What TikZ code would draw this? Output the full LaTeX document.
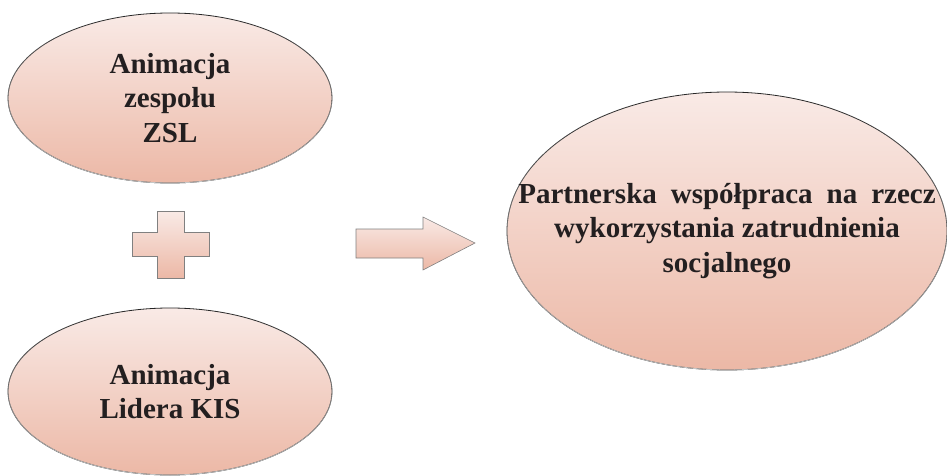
\documentclass[tikz,border=0pt]{standalone}
\usepackage{fontspec}
\setmainfont{Liberation Serif}
\usetikzlibrary{shapes,fadings,positioning}

\definecolor{pinktop}{RGB}{249,234,230}
\definecolor{pinkbot}{RGB}{236,184,166}
\definecolor{inkdark}{RGB}{35,31,32}

\tikzset{
    bubble/.style={draw=black!85,
        ellipse,
        inner sep=0,
        align=center,
        execute at begin node=\rule{0pt}{29pt},
        top color=pinktop,
        bottom color=pinkbot,
        text=inkdark,
        font=\fontsize{29}{34.5}\selectfont\bfseries,
        postaction={draw=black!22,path fading=north}},
    signshape/.style={draw=black!50,
        top color=pinktop,
        bottom color=pinkbot}
}

\begin{document}
\begin{tikzpicture}[x=1pt,y=-1pt,thick]
\useasboundingbox (0,0) rectangle (947,476);

% First animation
\node[bubble,
    minimum width=324pt,
    minimum height=170pt] (zsl) at (170,98) {Animacja\\zespołu\\ZSL};

% Second animation
\node[bubble,
    minimum width=324pt,
    minimum height=167pt] (kis) at (170,391.5) {Animacja\\Lidera KIS};

% Result
\node[bubble,
    inner xsep=-60pt,
    minimum width=440pt,
    minimum height=278pt] (partner) at (727,231) {Partnerska\hspace{14pt}współpraca\hspace{14pt}na\hspace{14pt}rzecz\\wykorzystania zatrudnienia\\socjalnego};

% Plus sign
\draw[signshape,semithick] (157,211) -- (184,211) -- (184,232) -- (209,232) -- (209,256)
    -- (184,256) -- (184,278) -- (157,278) -- (157,256) -- (132,256)
    -- (132,232) -- (157,232) -- cycle;

% Arrow
\draw[signshape,semithick] (356,229) -- (423,229) -- (423,217) -- (475,243)
    -- (423,270) -- (423,258) -- (356,258) -- cycle;

\end{tikzpicture}
\end{document}
